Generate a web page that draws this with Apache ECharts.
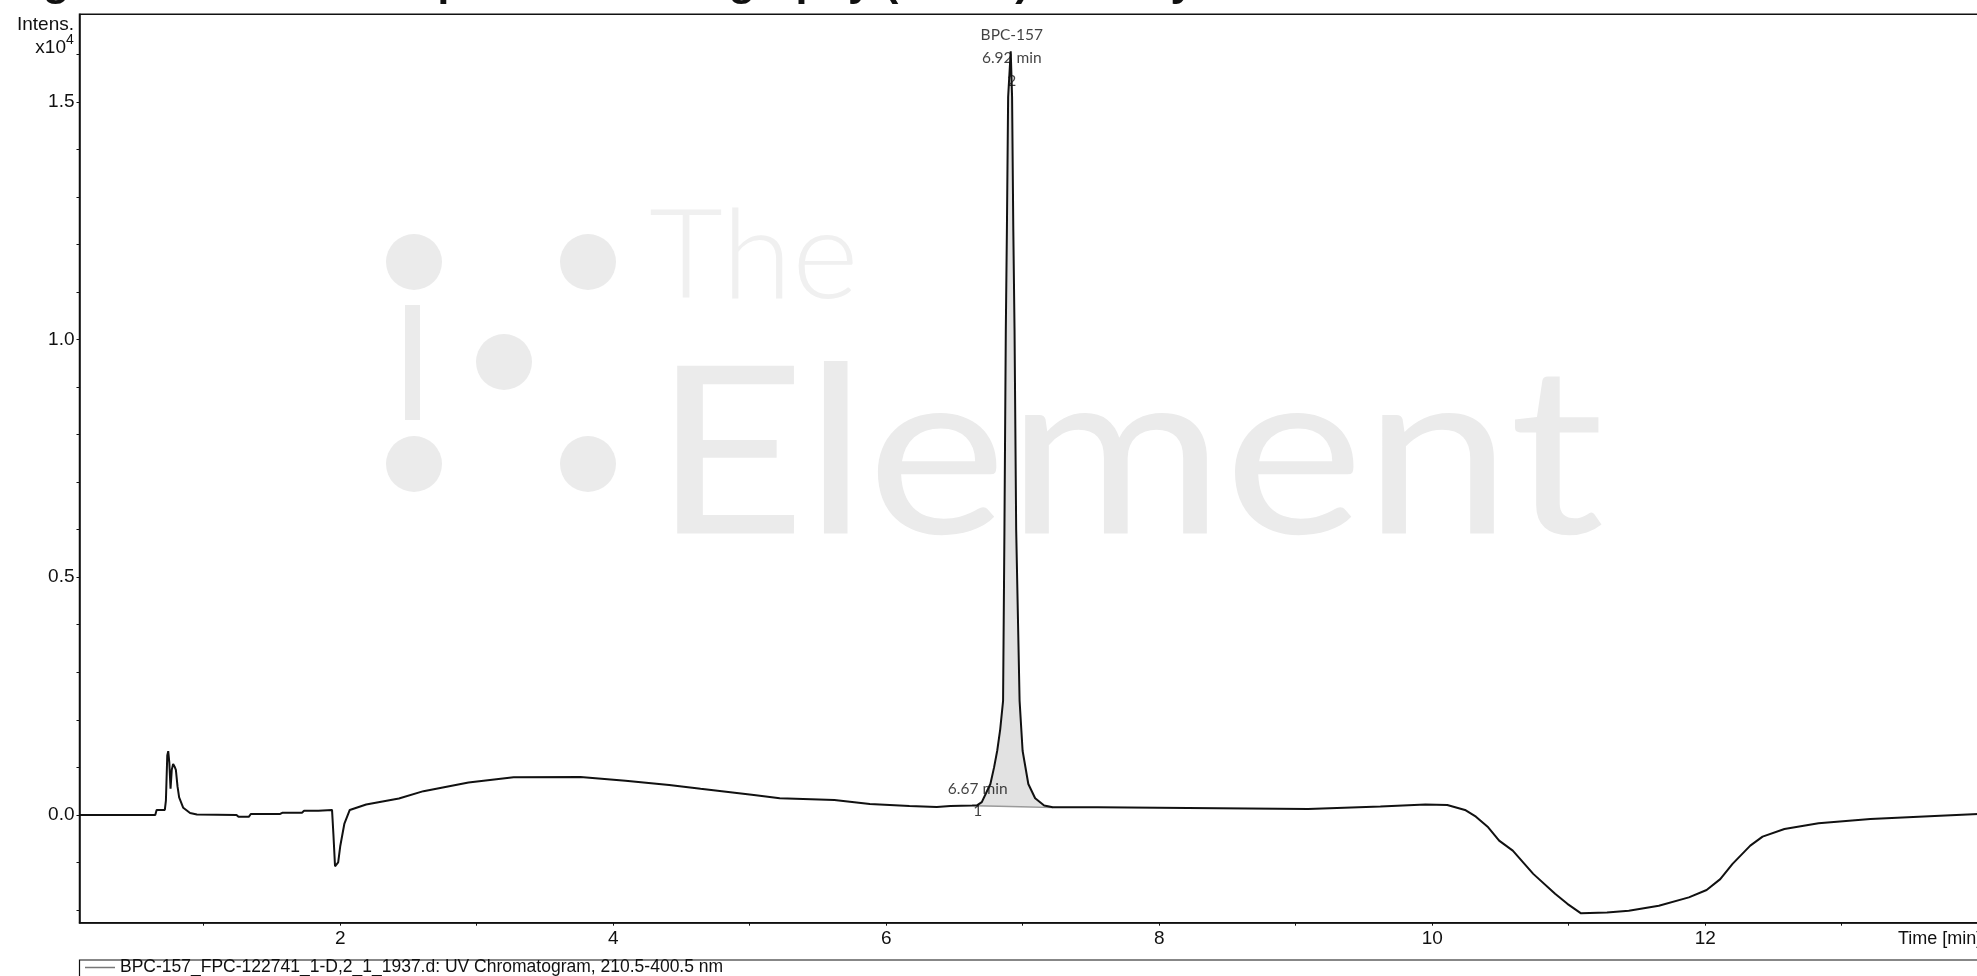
<!DOCTYPE html>
<html>
<head>
<meta charset="utf-8">
<script src="https://cdn.jsdelivr.net/npm/echarts@6/dist/echarts.min.js"></script>
<style>
  html, body { margin: 0; padding: 0; background: #fff; overflow: hidden; width: 1977px; height: 976px; }
  #chart { width: 2100px; height: 976px; }
</style>
</head>
<body>
<div id="chart"></div>
<script>
// ---- data (intensity in units of 10^4) ----
const times = [
  0.09, 0.645, 0.655, 0.715, 0.723, 0.733, 0.740, 0.748, 0.757, 0.766, 0.776, 0.786, 0.796, 0.808, 0.82, 0.85, 0.90, 0.95,
  1.24, 1.255, 1.33, 1.345, 1.56, 1.575, 1.72, 1.735, 1.84, 1.85, 1.94, 1.95, 1.962, 1.975, 1.985, 2.00, 2.03, 2.07,
  2.19, 2.43, 2.61, 2.94, 3.27, 3.76, 4.09, 4.41, 4.64, 5.03, 5.22, 5.62, 5.88, 6.17, 6.37, 6.47, 6.63,
  6.665, 6.70, 6.73, 6.763, 6.79, 6.813, 6.835, 6.856, 6.866, 6.876, 6.884, 6.893, 6.912, 6.922, 6.931, 6.940,
  6.952, 6.977, 6.999, 7.041, 7.091, 7.157, 7.22, 7.55, 7.56, 9.09, 9.10, 9.62, 9.95, 10.11, 10.24, 10.32, 10.41,
  10.49, 10.59, 10.74, 10.90, 10.99, 11.09, 11.28, 11.44, 11.66, 11.88, 12.01, 12.11, 12.20, 12.33, 12.42, 12.58,
  12.83, 13.21, 13.72, 14.00, 14.50
];
const intensity = [
  0.000, 0.000, 0.0105, 0.0105, 0.030, 0.125, 0.134, 0.110, 0.055, 0.095, 0.107, 0.102, 0.095, 0.060, 0.037, 0.015, 0.004, 0.001,
  0.000, -0.004, -0.004, 0.002, 0.002, 0.0045, 0.0045, 0.0086, 0.0086, 0.0105, 0.0105, -0.040, -0.108, -0.110, -0.100, -0.066, -0.019, 0.0105,
  0.022, 0.0345, 0.050, 0.068, 0.079, 0.080, 0.072, 0.063, 0.055, 0.042, 0.035, 0.0316, 0.023, 0.019, 0.0168, 0.019, 0.0196,
  0.020, 0.027, 0.045, 0.065, 0.100, 0.135, 0.180, 0.240, 0.600, 1.020, 1.230, 1.510, 1.606, 1.510, 1.230, 1.020,
  0.600, 0.240, 0.135, 0.065, 0.035, 0.020, 0.016, 0.016, 0.0126, 0.0126, 0.015, 0.0175, 0.0217, 0.021, 0.0105, -0.0036, -0.026,
  -0.054, -0.075, -0.124, -0.166, -0.187, -0.207, -0.205, -0.2015, -0.191, -0.1735, -0.158, -0.135, -0.103, -0.0646, -0.0457, -0.0295,
  -0.0177, -0.0084, -0.0015, 0.002, 0.003
];
// integration baseline of the main peak
const baselineTimes = [6.665, 7.22];
const baselineValues = [0.0195, 0.0155];
const peakFillRange = [6.665, 7.22];
// peak annotations
const peakLabelTimes = [6.67, 6.92];
const peakLabelValues = [0.0195, 1.606];
const peakLabelTexts = ['6.67 min\n1', 'BPC-157\n6.92 min\n2'];
// axis ticks
const yTickLabels = [0, 0.5, 1.0, 1.5];
const yMinorTicks = [-0.2, -0.1, 0, 0.1, 0.2, 0.3, 0.4, 0.5, 0.6, 0.7, 0.8, 0.9, 1.0, 1.1, 1.2, 1.3, 1.4, 1.5, 1.6];
const xTickLabels = [2, 4, 6, 8, 10, 12];
const xMinorTicks = [1, 2, 3, 4, 5, 6, 7, 8, 9, 10, 11, 12, 13, 14];
const legendName = 'BPC-157_FPC-122741_1-D,2_1_1937.d: UV Chromatogram, 210.5-400.5 nm';
const titleText = 'High-Performance Liquid Chromatography (HPLC) Identity Test';

// ---- build ----
const mainData = times.map((t, i) => [t, intensity[i]]);
const fillData = mainData.filter(p => p[0] >= peakFillRange[0] && p[0] <= peakFillRange[1]);
const baselineData = baselineTimes.map((t, i) => [t, baselineValues[i]]);
const labelData = peakLabelTimes.map((t, i) => ({
  value: [t, peakLabelValues[i]],
  label: { formatter: peakLabelTexts[i], offset: i === 0 ? [0, -6] : [0, 7], lineHeight: i === 0 ? 22 : 23 }
}));

const AX = 'Liberation Sans, Arial, sans-serif';
const chart = echarts.init(document.getElementById('chart'), null, { renderer: 'canvas' });
const wm = '#ebebeb';
chart.setOption({
  animation: false,
  backgroundColor: '#fff',
  grid: { left: 79.5, top: 14.3, right: 53.5, bottom: 53.3, show: true, borderColor: '#111', borderWidth: 1.5, backgroundColor: 'transparent' },
  xAxis: {
    type: 'value', min: 0.09, max: 14.5,
    axisLine: { show: true, onZero: false, lineStyle: { color: '#111', width: 1.5 } },
    axisTick: { show: true, customValues: xMinorTicks, length: 3, lineStyle: { color: '#111' } },
    axisLabel: { customValues: xTickLabels, margin: 7, fontFamily: AX, fontSize: 19, color: '#111' },
    splitLine: { show: false }
  },
  yAxis: {
    type: 'value', min: -0.2267, max: 1.684,
    axisLine: { show: true, onZero: false, lineStyle: { color: '#111', width: 1.5 } },
    axisTick: { show: true, customValues: yMinorTicks, length: 3, lineStyle: { color: '#111' } },
    axisLabel: { customValues: yTickLabels, margin: 5, fontFamily: AX, fontSize: 19, color: '#111', formatter: v => v.toFixed(1) },
    splitLine: { show: false }
  },
  legend: {
    data: [legendName], left: 85, top: 958.5, padding: 0, icon: 'rect', itemWidth: 30, itemHeight: 1.5,
    itemStyle: { color: '#777' },
    textStyle: { fontFamily: AX, fontSize: 17.5, color: '#111' }, selectedMode: false
  },
  graphic: [
    { type: 'text', z: -5, style: { text: titleText, x: 0, y: 5, verticalAlign: 'bottom', font: 'bold 43px "Liberation Sans", Arial, sans-serif', fill: '#111' } },
    { type: 'circle', z: -10, shape: { cx: 414, cy: 262, r: 28 }, style: { fill: wm } },
    { type: 'circle', z: -10, shape: { cx: 588, cy: 262, r: 28 }, style: { fill: wm } },
    { type: 'rect', z: -10, shape: { x: 405, y: 305, width: 15, height: 115 }, style: { fill: wm } },
    { type: 'circle', z: -10, shape: { cx: 504, cy: 362, r: 28 }, style: { fill: wm } },
    { type: 'circle', z: -10, shape: { cx: 414, cy: 464, r: 28 }, style: { fill: wm } },
    { type: 'circle', z: -10, shape: { cx: 588, cy: 464, r: 28 }, style: { fill: wm } },
    { type: 'text', z: -10, x: 649, y: 258, scaleX: 1.03, style: { text: 'The', x: 0, y: 0, verticalAlign: 'middle', font: '300 124px Lato, sans-serif', fill: '#f0f0f0' } },
    { type: 'text', z: -10, x: 653, y: 458, scaleX: 1.13, style: { text: 'Element', x: 0, y: 0, verticalAlign: 'middle', font: '400 234px Lato, sans-serif', fill: wm } },
    { type: 'text', style: { text: 'Intens.', x: 74, y: 24.5, align: 'right', verticalAlign: 'middle', font: '19px ' + AX, fill: '#111' } },
    { type: 'text', style: { text: 'x10', x: 66, y: 47.5, align: 'right', verticalAlign: 'middle', font: '19px ' + AX, fill: '#111' } },
    { type: 'text', style: { text: '4', x: 66, y: 40, align: 'left', verticalAlign: 'middle', font: '14px ' + AX, fill: '#111' } },
    { type: 'text', style: { text: 'Time [min]', x: 1898, y: 939, align: 'left', verticalAlign: 'middle', font: '18px ' + AX, fill: '#111' } },
    { type: 'rect', shape: { x: 79.5, y: 960, width: 2100, height: 60 }, style: { fill: 'none', stroke: '#111', lineWidth: 1.2 } }
  ],
  series: [
    { type: 'line', name: 'fill', data: fillData, symbol: 'none', z: 1, silent: true,
      lineStyle: { width: 0 }, areaStyle: { color: '#e2e2e2', opacity: 1, origin: 0.0175 } },
    { type: 'line', name: 'baseline', data: baselineData, symbol: 'none', z: 2, silent: true,
      lineStyle: { color: '#9a9a9a', width: 1.5 } },
    { type: 'line', name: legendName, data: mainData, symbol: 'none', z: 3, sampling: 'none',
      lineStyle: { color: '#111', width: 2 }, itemStyle: { color: '#777' } },
    { type: 'scatter', name: 'labels', data: labelData, symbolSize: 0, z: 4, silent: true,
      label: { show: true, position: 'inside', fontFamily: 'Lato, sans-serif', fontSize: 15.5, color: '#111' } }
  ]
});
</script>
</body>
</html>
